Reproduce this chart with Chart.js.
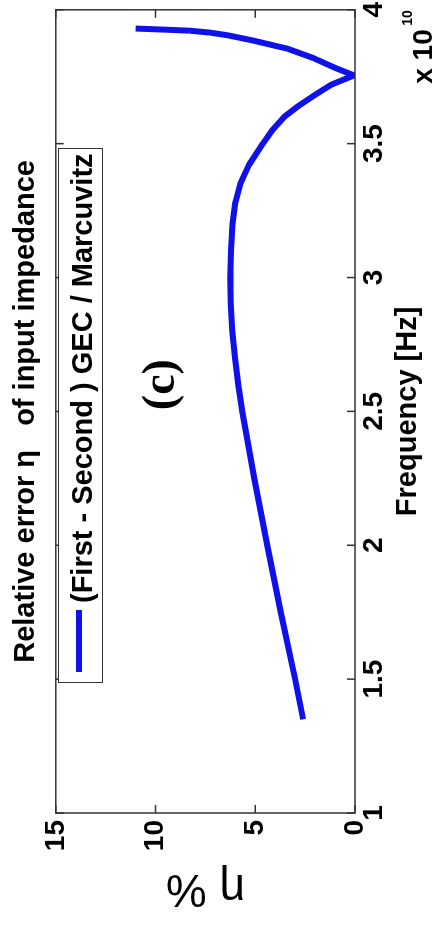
<!DOCTYPE html>
<html>
<head>
<meta charset="utf-8">
<script src="https://cdn.jsdelivr.net/npm/chart.js@4.4.1/dist/chart.umd.min.js"></script>
<style>
  html, body { margin: 0; padding: 0; background: #fff; }
  body { width: 436px; height: 926px; overflow: hidden; position: relative; }
  /* the figure is drawn landscape and turned a quarter turn to the left */
  #plot {
    position: absolute; left: 0; top: 0; width: 926px; height: 436px;
    transform-origin: 0 0; transform: translate(0, 926px) rotate(-90deg);
  }
  #legend {
    position: absolute; left: 243px; top: 58px; width: 535px; height: 45px;
    box-sizing: border-box; border: 1.5px solid #333; background: #fff;
    font: bold 29px 'Liberation Sans', Arial, sans-serif; color: #000;
  }
  #legend .swatch { position: absolute; left: 10px; top: 17px; width: 62px; height: 6px; }
  #legend .txt { position: absolute; left: 79px; top: 1.5px; line-height: 42px; white-space: pre; }
</style>
</head>
<body>
<div id="plot">
  <canvas id="c" width="926" height="436"></canvas>
  <div id="legend"><span class="swatch"></span><span class="txt"></span></div>
</div>
<script>
/* ---------- data (frequency in units of 1e10 Hz, eta in %) ---------- */
var FREQ = [1.35, 1.5, 1.75, 2.0, 2.25, 2.5, 2.6, 2.7, 2.8, 2.9, 3.0, 3.1, 3.2, 3.28,
            3.35, 3.42, 3.5, 3.55, 3.6, 3.64, 3.68, 3.72, 3.755,
            3.78, 3.82, 3.855, 3.885, 3.905, 3.915, 3.922, 3.926, 3.93];
var ETA  = [2.6, 3.0, 3.72, 4.4, 5.05, 5.65, 5.85, 6.02, 6.15, 6.23, 6.25, 6.22, 6.14, 6.0,
            5.75, 5.32, 4.62, 4.15, 3.55, 2.85, 2.05, 1.2, 0.05,
            0.9, 2.1, 3.4, 5.1, 6.4, 7.3, 8.3, 9.6, 11.0];

var FREQ_TICKS = [1, 1.5, 2, 2.5, 3, 3.5, 4];
var ETA_TICKS  = [0, 5, 10, 15];

var TITLE        = 'Relative error \u03b7   of input impedance';
var LEGEND_LABEL = '(First - Second ) GEC / Marcuvitz';
var X_TITLE      = 'Frequency [Hz]';
var Y_TITLE      = '\u03b7 %';
var PANEL        = '(c)';
var PANEL_AT     = [2.6, 9.65];        // data coords of the panel tag
var LINE_COLOR   = '#1010ea';

var SANS = "'Liberation Sans', Arial, sans-serif";
var TICK = 8;

Chart.defaults.font.family = SANS;
Chart.defaults.color = '#000';

/* ---------- matlab style box: frame, inward ticks, panel tag, exponent ---------- */
var frame = {
  id: 'frame',
  afterDatasetsDraw: function (chart) {
    var ctx = chart.ctx, a = chart.chartArea;
    var xs = chart.scales.x, ys = chart.scales.y;
    ctx.save();
    ctx.strokeStyle = '#333';
    ctx.lineWidth = 1.5;
    ctx.strokeRect(a.left, a.top, a.right - a.left, a.bottom - a.top);
    ctx.beginPath();
    xs.ticks.forEach(function (t) {
      var px = xs.getPixelForValue(t.value);
      ctx.moveTo(px, a.bottom); ctx.lineTo(px, a.bottom - TICK);
      ctx.moveTo(px, a.top);    ctx.lineTo(px, a.top + TICK);
    });
    ys.ticks.forEach(function (t) {
      var py = ys.getPixelForValue(t.value);
      ctx.moveTo(a.left, py);  ctx.lineTo(a.left + TICK, py);
      ctx.moveTo(a.right, py); ctx.lineTo(a.right - TICK, py);
    });
    ctx.stroke();

    ctx.fillStyle = '#000';
    ctx.textAlign = 'center';
    ctx.textBaseline = 'middle';
    ctx.font = "bold 46px 'Liberation Serif', serif";
    ctx.fillText(PANEL, xs.getPixelForValue(PANEL_AT[0]), ys.getPixelForValue(PANEL_AT[1]));

    ctx.textAlign = 'left';
    ctx.textBaseline = 'alphabetic';
    ctx.font = 'bold 28px ' + SANS;
    ctx.fillText('x 10', a.right - 74, chart.height - 4);
    ctx.font = 'bold 14px ' + SANS;
    ctx.fillText('10', a.right - 16, chart.height - 24);
    ctx.restore();
  }
};

var chart = new Chart(document.getElementById('c'), {
  type: 'scatter',
  data: {
    datasets: [{
      label: LEGEND_LABEL,
      data: FREQ.map(function (f, i) { return { x: f, y: ETA[i] }; }),
      showLine: true,
      borderColor: LINE_COLOR,
      backgroundColor: LINE_COLOR,
      borderWidth: 6,
      borderJoinStyle: 'round',
      pointRadius: 0,
      tension: 0
    }]
  },
  options: {
    responsive: false,
    animation: false,
    devicePixelRatio: 1,
    layout: { padding: { top: 0, right: 9, bottom: 0, left: 0 } },
    plugins: {
      legend: { display: false },
      tooltip: { enabled: false },
      title: {
        display: true, text: TITLE, fullSize: false, color: '#000',
        font: { size: 29, weight: 'bold' },
        padding: { top: 9, bottom: 12 }
      }
    },
    scales: {
      x: {
        type: 'linear', min: 1, max: 4,
        afterBuildTicks: function (s) { s.ticks = FREQ_TICKS.map(function (v) { return { value: v }; }); },
        afterFit: function (s) { s.height = 81; },
        grid: { display: false, drawTicks: false, tickLength: 0 },
        border: { display: false },
        ticks: {
          padding: 2, maxRotation: 0, autoSkip: false, color: '#000',
          font: { size: 28, weight: 'bold' },
          callback: function (v) { return String(v); }
        },
        title: {
          display: true, text: X_TITLE, color: '#000',
          font: { size: 29, weight: 'bold' },
          padding: { top: 0, bottom: 11 }
        }
      },
      y: {
        type: 'linear', min: 0, max: 15,
        afterBuildTicks: function (s) { s.ticks = ETA_TICKS.map(function (v) { return { value: v }; }); },
        afterFit: function (s) { s.width = 113; },
        grid: { display: false, drawTicks: false, tickLength: 0 },
        border: { display: false },
        ticks: {
          padding: 7, autoSkip: false, color: '#000',
          font: { size: 28, weight: 'bold' },
          callback: function (v) { return String(v); }
        },
        title: {
          display: true, text: Y_TITLE, color: '#000',
          font: { size: 46, weight: 'normal' },
          padding: { top: 11, bottom: 0 }
        }
      }
    }
  },
  plugins: [frame]
});

/* ---------- boxed legend inside the axes, filled from the dataset ---------- */
(function () {
  var ds = chart.data.datasets[0];
  var box = document.getElementById('legend');
  box.querySelector('.swatch').style.background = ds.borderColor;
  box.querySelector('.txt').textContent = ds.label;
})();
</script>
</body>
</html>
